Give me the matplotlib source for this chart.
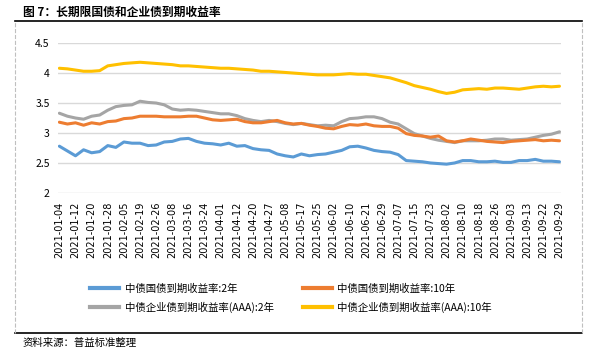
import numpy as np
import matplotlib.pyplot as plt
from matplotlib.lines import Line2D

plt.rcParams['font.family'] = ['Noto Sans CJK SC', 'DejaVu Sans']

# tick labels, one every 6 trading days
tick_dates = ['2021-01-04', '2021-01-12', '2021-01-20', '2021-01-28', '2021-02-05',
              '2021-02-19', '2021-02-26', '2021-03-08', '2021-03-16', '2021-03-24',
              '2021-04-01', '2021-04-12', '2021-04-20', '2021-04-27', '2021-05-08',
              '2021-05-17', '2021-05-25', '2021-06-02', '2021-06-10', '2021-06-21',
              '2021-06-29', '2021-07-07', '2021-07-15', '2021-07-23', '2021-08-02',
              '2021-08-10', '2021-08-18', '2021-08-26', '2021-09-03', '2021-09-13',
              '2021-09-22', '2021-09-29']

# values read every 3 trading days
gov_2y = [2.78, 2.70, 2.62, 2.72, 2.67, 2.69, 2.79, 2.76, 2.85, 2.83, 2.83,
          2.79, 2.80, 2.85, 2.86, 2.90, 2.91, 2.86, 2.83, 2.82, 2.80, 2.83,
          2.78, 2.79, 2.74, 2.72, 2.71, 2.65, 2.62, 2.60, 2.65, 2.62, 2.64,
          2.65, 2.68, 2.71, 2.77, 2.78, 2.75, 2.71, 2.69, 2.68, 2.64, 2.54,
          2.53, 2.52, 2.50, 2.49, 2.48, 2.50, 2.54, 2.54, 2.52, 2.52, 2.53,
          2.51, 2.51, 2.54, 2.54, 2.56, 2.53, 2.53, 2.52]
gov_10y = [3.18, 3.15, 3.17, 3.13, 3.17, 3.15, 3.19, 3.20, 3.24, 3.25, 3.28,
           3.28, 3.28, 3.27, 3.27, 3.27, 3.28, 3.28, 3.25, 3.22, 3.21, 3.22,
           3.23, 3.19, 3.17, 3.17, 3.19, 3.21, 3.17, 3.15, 3.16, 3.13, 3.11,
           3.08, 3.07, 3.11, 3.14, 3.13, 3.15, 3.12, 3.11, 3.11, 3.08, 2.99,
           2.96, 2.95, 2.93, 2.95, 2.87, 2.85, 2.87, 2.90, 2.88, 2.86, 2.85,
           2.84, 2.86, 2.87, 2.88, 2.89, 2.87, 2.88, 2.87]
corp_2y = [3.33, 3.28, 3.25, 3.23, 3.28, 3.30, 3.38, 3.44, 3.46, 3.47, 3.53,
           3.51, 3.50, 3.47, 3.40, 3.38, 3.39, 3.38, 3.36, 3.34, 3.32, 3.32,
           3.29, 3.24, 3.21, 3.19, 3.21, 3.19, 3.16, 3.14, 3.16, 3.14, 3.12,
           3.13, 3.12, 3.19, 3.24, 3.25, 3.27, 3.27, 3.24, 3.18, 3.15, 3.07,
           2.99, 2.95, 2.91, 2.88, 2.86, 2.84, 2.87, 2.87, 2.87, 2.88, 2.90,
           2.90, 2.88, 2.89, 2.90, 2.93, 2.96, 2.98, 3.02]
corp_10y = [4.08, 4.07, 4.05, 4.03, 4.03, 4.04, 4.12, 4.14, 4.16, 4.17, 4.18,
            4.17, 4.16, 4.15, 4.14, 4.12, 4.12, 4.11, 4.10, 4.09, 4.08, 4.08,
            4.07, 4.06, 4.05, 4.03, 4.03, 4.02, 4.01, 4.00, 3.99, 3.98, 3.97,
            3.97, 3.97, 3.98, 3.99, 3.98, 3.98, 3.96, 3.94, 3.92, 3.88, 3.84,
            3.79, 3.76, 3.73, 3.69, 3.66, 3.68, 3.72, 3.73, 3.74, 3.73, 3.75,
            3.75, 3.74, 3.73, 3.75, 3.77, 3.78, 3.77, 3.78]

labels = ['中债国债到期收益率:2年', '中债国债到期收益率:10年',
          '中债企业债到期收益率(AAA):2年', '中债企业债到期收益率(AAA):10年']
colors = ['#5B9BD5', '#ED7D31', '#A5A5A5', '#FFC000']

days = np.arange(len(gov_2y)) * 3
ticks = np.arange(len(tick_dates)) * 6

fig = plt.figure(figsize=(6, 3.56), dpi=100)
ax = fig.add_axes([0.0967, 0.458, 0.838, 0.421])

# order of drawing: later series on top like the source
for vals, c in [(corp_10y, colors[3]), (corp_2y, colors[2]),
                (gov_10y, colors[1]), (gov_2y, colors[0])]:
    ax.plot(days, vals, color=c, lw=2.2, solid_capstyle='round')

ax.set_xlim(-0.5, days[-1] + 0.5)
ax.set_ylim(2, 4.5)
ax.set_yticks([2, 2.5, 3, 3.5, 4, 4.5])
ax.set_yticklabels(['2', '2.5', '3', '3.5', '4', '4.5'], fontsize=7.5)
ax.set_xticks(ticks)
ax.set_xticklabels(tick_dates, rotation=90, fontsize=7, family='DejaVu Sans')
ax.tick_params(length=0, pad=6)
ax.grid(axis='y', color='#D9D9D9', lw=1)
ax.set_axisbelow(True)
for s in ax.spines.values():
    s.set_visible(False)

# legend fills column by column: 2Y gov / AAA 2Y, then 10Y gov / AAA 10Y
order = [0, 2, 1, 3]
handles = [Line2D([0], [0], color=colors[i], lw=3) for i in order]
fig.legend(handles, [labels[i] for i in order], ncol=2, loc='center',
           bbox_to_anchor=(0.485, 0.163), frameon=False, fontsize=7.5,
           handlelength=2.8, handletextpad=0.5, columnspacing=2.8,
           labelspacing=0.75)

# header, footer and dashed frame
fig.text(0.038, 0.966, '图 7：长期限国债和企业债到期收益率', fontsize=8.5,
         va='center', ha='left', weight='bold')
fig.add_artist(Line2D([0.025, 0.97], [0.941, 0.941], color='black', lw=1.2))
fig.add_artist(Line2D([0.025, 0.97], [0.065, 0.065], color='black', lw=1.2))
fig.add_artist(Line2D([0.025, 0.025], [0.065, 0.941], color='#BFBFBF', lw=0.8, ls='--'))
fig.add_artist(Line2D([0.97, 0.97], [0.065, 0.941], color='#BFBFBF', lw=0.8, ls='--'))
fig.text(0.037, 0.036, '资料来源：普益标准整理', fontsize=7.5, va='center', ha='left')

fig.savefig('out.png', dpi=100)
